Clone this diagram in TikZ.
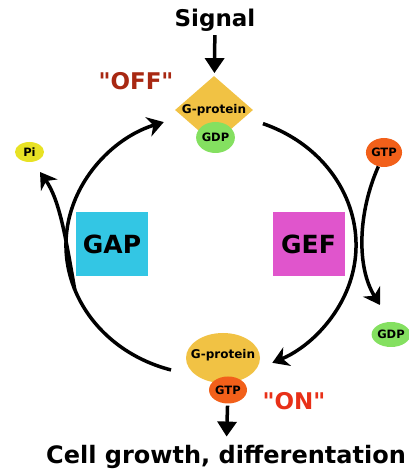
\documentclass[tikz,border=0pt]{standalone}
\usepackage{fontspec}
\newfontfamily\dejavu{DejaVu Sans}
\usetikzlibrary{arrows.meta,shapes.geometric,calc}
\definecolor{ggold}{HTML}{F1C244}
\definecolor{ggreen}{HTML}{84E060}
\definecolor{gorange}{HTML}{F2601A}
\definecolor{gyellow}{HTML}{E8E224}
\definecolor{gcyan}{HTML}{33C6E4}
\definecolor{gmagenta}{HTML}{E055CC}
\definecolor{offred}{HTML}{A82812}
\definecolor{onred}{HTML}{E83018}
\tikzset{
    gprot/.style={
    ellipse,fill=ggold,inner sep=0pt
    },
    nucleo/.style={
    ellipse,inner sep=0pt,font=\dejavu\bfseries\fontsize{11.5}{11.5}\selectfont
    },
    small/.style={
    inner sep=0pt,font=\dejavu\bfseries\fontsize{12}{12}\selectfont
    },
    enzyme/.style={
    rectangle,inner sep=0pt,minimum width=72pt,minimum height=64pt,
    font=\dejavu\bfseries\fontsize{25}{25}\selectfont
    },
    word/.style={
    inner sep=0pt,font=\dejavu\bfseries\fontsize{23}{23}\selectfont
    },
    cycle/.style={
    line width=3.5pt,-{Stealth[length=16pt,width=20pt,inset=5pt]}
    },
    down/.style={
    line width=3.5pt,-{Triangle[length=15pt,width=19pt]}
    },
}
\begin{document}
\begin{tikzpicture}[x=1pt,y=1pt]
   \useasboundingbox (0,0) rectangle (408,471);
   \coordinate (ctr) at (211,226);

   %inactive G-protein
   \node[word,anchor=base] (signal) at (215,444) {Signal};
   \node[diamond,fill=ggold,minimum width=78pt,minimum height=68pt,inner sep=0pt] (gp1) at (214,361) {};
   \node[small] (gp1t) at (214,361) {G-protein};
   \node[nucleo,fill=ggreen,minimum width=35pt,minimum height=31pt] (gdp1) at (215.5,333.5) {GDP};
   \node[word,text=offred,anchor=base] (off) at (136,381) {"OFF"};

   %active G-protein
   \node[gprot,minimum width=74pt,minimum height=50pt] (gp2) at (223,113) {};
   \node[small] (gp2t) at (223,116) {G-protein};
   \node[nucleo,fill=gorange,minimum width=38pt,minimum height=27pt] (gtp2) at (228,81) {GTP};
   \node[word,text=onred,anchor=base] (on) at (294,61) {"ON"};
   \node[word,font=\dejavu\bfseries\fontsize{24}{24}\selectfont,anchor=base] (cell) at (226,8) {Cell growth, differentation};

   %GAP side
   \node[enzyme,fill=gcyan] (gap) at (112,227) {GAP};
   \node[nucleo,fill=gyellow,minimum width=29pt,minimum height=20pt] (pi) at (29.5,319) {Pi};

   %GEF side
   \node[enzyme,fill=gmagenta] (gef) at (308.5,227) {GEF};
   \node[nucleo,fill=gorange,minimum width=34pt,minimum height=29pt] (gtp1) at (384,318.5) {GTP};
   \node[nucleo,fill=ggreen,minimum width=32pt,minimum height=25pt] (gdp2) at (391,136.5) {GDP};

   %points on the cycle
   \coordinate (offin) at ([shift={(254:145 and 130)}]ctr);
   \coordinate (onin) at ([shift={(69:145 and 130)}]ctr);
   \coordinate (pibr) at ([shift={(200:145 and 130)}]ctr);
   \coordinate (pitip) at (40,299);
   \coordinate (gdptip) at (380,166);

   \draw[cycle] (offin) arc[start angle=254,end angle=109,x radius=145,y radius=130];
   \draw[cycle] (onin) arc[start angle=69,end angle=-65,x radius=145,y radius=130];

  \path[down]
    (signal) edge[shorten <=3pt,shorten >=3pt] (gp1)
    (gtp2) edge[shorten <=2pt,shorten >=8pt] (cell);

  \path[cycle]
    (pibr) edge[out=100,in=-55,out distance=50pt,in distance=35pt] (pitip)
    (gtp1.-112) edge[out=246,in=122,out distance=50pt,in distance=45pt] (gdptip);
  \end{tikzpicture}
\end{document}
